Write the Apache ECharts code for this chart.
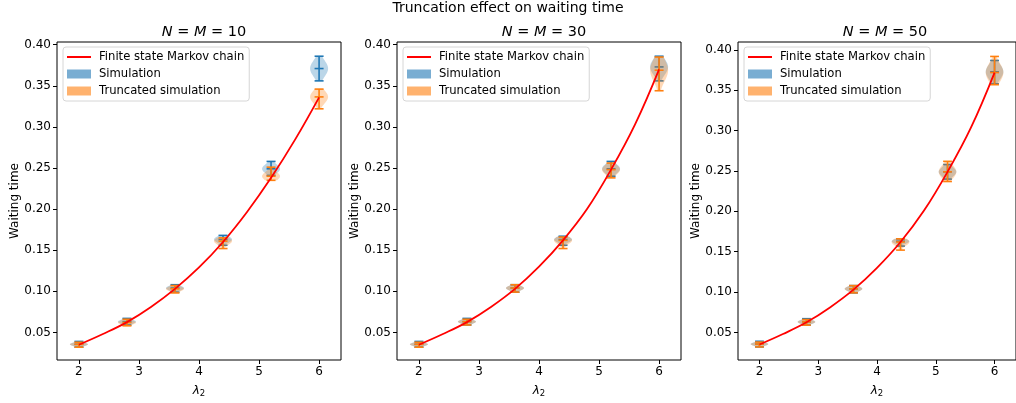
<!DOCTYPE html>
<html>
<head>
<meta charset="utf-8">
<script src="https://cdn.jsdelivr.net/npm/echarts@6/dist/echarts.min.js"></script>
<style>
html, body { margin: 0; padding: 0; background: #fff; }
#chart { width: 1016px; height: 403px; }
</style>
</head>
<body>
<div id="chart"></div>
<script>
// violin positions (lambda_2)
const lambdas = [2, 2.8, 3.6, 4.4, 5.2, 6];

// finite state Markov chain curve
const curveX = [2, 2.4, 2.8, 3.2, 3.6, 4.0, 4.4, 4.8, 5.2, 5.6, 6];
const markov10 = [0.035, 0.048, 0.0625, 0.081, 0.103, 0.129, 0.160, 0.1965, 0.238, 0.2845, 0.336];
const markov30 = [0.035, 0.048, 0.0625, 0.081, 0.103, 0.130, 0.162, 0.200, 0.248, 0.303, 0.370];
const markov50 = [0.035, 0.048, 0.0625, 0.081, 0.103, 0.130, 0.162, 0.201, 0.249, 0.304, 0.372];

// violins: [min, mean, max]
const sim10 = [[0.032, 0.0355, 0.039], [0.059, 0.063, 0.067], [0.099, 0.104, 0.108], [0.156, 0.163, 0.168], [0.241, 0.249, 0.258], [0.356, 0.371, 0.386]];
const trunc10 = [[0.032, 0.0355, 0.038], [0.058, 0.062, 0.066], [0.098, 0.103, 0.107], [0.152, 0.161, 0.165], [0.235, 0.240, 0.251], [0.322, 0.3365, 0.346]];
const sim30 = [[0.032, 0.0355, 0.039], [0.059, 0.063, 0.067], [0.099, 0.104, 0.108], [0.156, 0.163, 0.167], [0.240, 0.249, 0.258], [0.356, 0.373, 0.386]];
const trunc30 = [[0.032, 0.0355, 0.038], [0.059, 0.063, 0.066], [0.099, 0.104, 0.108], [0.152, 0.162, 0.166], [0.238, 0.248, 0.256], [0.344, 0.369, 0.385]];
const sim50 = [[0.032, 0.0355, 0.039], [0.059, 0.063, 0.067], [0.099, 0.104, 0.108], [0.157, 0.163, 0.166], [0.240, 0.249, 0.258], [0.358, 0.373, 0.387]];
const trunc50 = [[0.032, 0.0355, 0.038], [0.059, 0.063, 0.066], [0.099, 0.104, 0.108], [0.152, 0.162, 0.166], [0.237, 0.249, 0.262], [0.357, 0.372, 0.392]];

const panelNs = ['10', '30', '50'];
const xTicks = [2, 3, 4, 5, 6];
const yTicks = [0.05, 0.10, 0.15, 0.20, 0.25, 0.30, 0.35, 0.40];

const panels = [
  { n: panelNs[0], markov: markov10, sim: sim10, trunc: trunc10, yMin: 0.0164, yMax: 0.4033 },
  { n: panelNs[1], markov: markov30, sim: sim30, trunc: trunc30, yMin: 0.0164, yMax: 0.4033 },
  { n: panelNs[2], markov: markov50, sim: sim50, trunc: trunc50, yMin: 0.0158, yMax: 0.4099 }
];

const FONT = 'DejaVu Sans';
const BLUE = '#1f77b4';
const ORANGE = '#ff7f0e';
const gridLefts = [57, 397, 738];
const gridTop = 42, gridW = 284, gridH = 319;
// thin line legend icon (tiny corner squares keep the 24x9 box)
const LINE_ICON = 'path://M0,0h0.01v0.01h-0.01zM0,3.6h24v1.8h-24zM23.99,8.99h0.01v0.01h-0.01z';

function alpha(hex, a) {
  const v = parseInt(hex.slice(1), 16);
  return 'rgba(' + (v >> 16) + ',' + ((v >> 8) & 255) + ',' + (v & 255) + ',' + a + ')';
}

// violin body + extrema bars + mean line
function violinItem(color) {
  return function (params, api) {
    const x = api.value(0), lo = api.value(1), mu = api.value(2), hi = api.value(3);
    const cx = api.coord([x, mu])[0];
    const half = api.size([0.15, 0])[0];
    const cap = half / 2;
    const sigma = (hi - lo) / 3;
    const n = 30, right = [], left = [];
    for (let i = 0; i <= n; i++) {
      const y = lo + (hi - lo) * i / n;
      const w = half * Math.exp(-0.5 * Math.pow((y - mu) / sigma, 2));
      const py = api.coord([x, y])[1];
      right.push([cx + w, py]);
      left.unshift([cx - w, py]);
    }
    const yLo = api.coord([x, lo])[1], yHi = api.coord([x, hi])[1], yMu = api.coord([x, mu])[1];
    const ls = { stroke: color, lineWidth: 1.6 };
    return {
      type: 'group',
      children: [
        { type: 'polygon', shape: { points: right.concat(left) }, style: { fill: alpha(color, 0.3) } },
        { type: 'line', shape: { x1: cx, y1: yLo, x2: cx, y2: yHi }, style: ls },
        { type: 'line', shape: { x1: cx - cap, y1: yLo, x2: cx + cap, y2: yLo }, style: ls },
        { type: 'line', shape: { x1: cx - cap, y1: yHi, x2: cx + cap, y2: yHi }, style: ls },
        { type: 'line', shape: { x1: cx - cap, y1: yMu, x2: cx + cap, y2: yMu }, style: ls }
      ]
    };
  };
}

const titles = [{
  text: 'Truncation effect on waiting time',
  left: 'center', top: -4,
  textStyle: { fontFamily: FONT, fontSize: 14, fontWeight: 'normal', color: '#000' }
}];
const grids = [], xAxes = [], yAxes = [], legends = [], series = [];

panels.forEach((p, i) => {
  titles.push({
    text: '{i|N} = {i|M} = ' + p.n,
    left: gridLefts[i] + gridW / 2, textAlign: 'center', top: 20,
    textStyle: {
      fontFamily: FONT, fontSize: 14.5, fontWeight: 'normal', color: '#000',
      rich: { i: { fontFamily: FONT, fontSize: 14.5, fontStyle: 'italic', color: '#000' } }
    }
  });
  grids.push({
    left: gridLefts[i], top: gridTop, width: gridW, height: gridH,
    show: true, borderColor: '#000', borderWidth: 1, backgroundColor: 'transparent'
  });
  xAxes.push({
    type: 'value', gridIndex: i, min: 1.635, max: 6.365,
    axisLine: { show: false },
    splitLine: { show: false },
    axisTick: { show: true, customValues: xTicks, length: 4, lineStyle: { color: '#000' } },
    axisLabel: { customValues: xTicks, color: '#000', fontFamily: FONT, fontSize: 12, margin: 6 },
    name: '{l|λ}{s|2}', nameLocation: 'middle', nameGap: 23,
    nameTextStyle: {
      rich: {
        l: { fontFamily: FONT, fontSize: 12, fontStyle: 'italic', color: '#000' },
        s: { fontFamily: FONT, fontSize: 8.5, color: '#000', verticalAlign: 'bottom', padding: [6, 0, 0, 0] }
      }
    }
  });
  yAxes.push({
    type: 'value', gridIndex: i, min: p.yMin, max: p.yMax,
    axisLine: { show: false },
    splitLine: { show: false },
    axisTick: { show: true, customValues: yTicks, length: 4, lineStyle: { color: '#000' } },
    axisLabel: {
      customValues: yTicks, color: '#000', fontFamily: FONT, fontSize: 12, margin: 6,
      formatter: v => v.toFixed(2)
    },
    name: 'Waiting time', nameLocation: 'middle', nameGap: 36,
    nameTextStyle: { fontFamily: FONT, fontSize: 12, color: '#000' }
  });
  legends.push({
    left: gridLefts[i] + 6, top: 47, orient: 'vertical',
    selectedMode: false,
    itemWidth: 24, itemHeight: 9, itemGap: 3,
    padding: [3, 5, 3, 4],
    borderColor: '#d6d6d6', borderWidth: 1, borderRadius: 3,
    backgroundColor: 'rgba(255,255,255,0.8)',
    textStyle: { fontFamily: FONT, fontSize: 11.6, color: '#000', lineHeight: 14, padding: [0, 0, 0, 3] },
    data: [
      { name: 'Finite state Markov chain', icon: LINE_ICON, itemStyle: { color: '#ff0000' } },
      { name: 'Simulation', icon: 'rect' },
      { name: 'Truncated simulation', icon: 'rect' }
    ]
  });
  series.push({
    name: 'Simulation', type: 'custom', xAxisIndex: i, yAxisIndex: i, z: 2,
    itemStyle: { color: alpha(BLUE, 0.6) },
    renderItem: violinItem(BLUE),
    data: lambdas.map((l, k) => [l].concat(p.sim[k]))
  });
  series.push({
    name: 'Truncated simulation', type: 'custom', xAxisIndex: i, yAxisIndex: i, z: 3,
    itemStyle: { color: alpha(ORANGE, 0.6) },
    renderItem: violinItem(ORANGE),
    data: lambdas.map((l, k) => [l].concat(p.trunc[k]))
  });
  series.push({
    name: 'Finite state Markov chain', type: 'line', xAxisIndex: i, yAxisIndex: i, z: 4,
    symbol: 'none', smooth: 0.4,
    lineStyle: { color: '#ff0000', width: 1.8 },
    itemStyle: { color: '#ff0000' },
    data: curveX.map((x, k) => [x, p.markov[k]])
  });
});

const chart = echarts.init(document.getElementById('chart'), null, { renderer: 'canvas' });
chart.setOption({
  animation: false,
  backgroundColor: '#fff',
  title: titles,
  grid: grids,
  xAxis: xAxes,
  yAxis: yAxes,
  legend: legends,
  tooltip: { show: false },
  series: series
});
</script>
</body>
</html>
